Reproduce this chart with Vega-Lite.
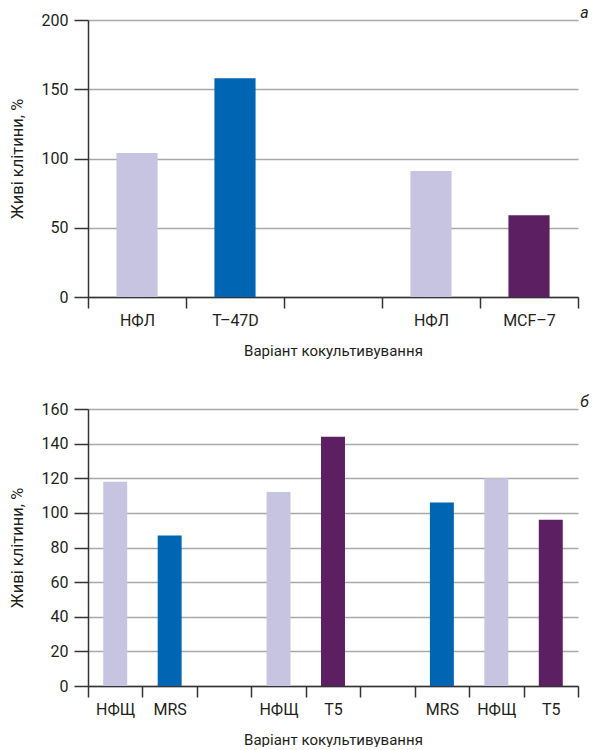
{
  "$schema": "https://vega.github.io/schema/vega-lite/v6.json",
  "padding": {"left": 9, "top": 5, "right": 5, "bottom": 0},
  "config": {
    "font": "Roboto",
    "view": {"stroke": null},
    "axis": {
      "labelFontSize": 16,
      "titleFontSize": 15,
      "labelColor": "#231f20",
      "titleColor": "#231f20",
      "titleFontWeight": "normal",
      "domainColor": "#333333",
      "domainWidth": 1.5,
      "tickColor": "#333333",
      "tickWidth": 1.5,
      "gridColor": "#a8a8a8",
      "gridWidth": 1.5
    }
  },
  "spacing": 36,
  "vconcat": [
    {
      "width": 490,
      "height": 277,
      "title": {"text": "а", "anchor": "end", "fontStyle": "italic", "fontWeight": "normal", "fontSize": 16, "dx": 10, "offset": -9, "color": "#231f20"},
      "data": {"values": [
        {"id": "1", "value": 104, "type": "norm"},
        {"id": "2", "value": 158, "type": "blue"},
        {"id": "4", "value": 91, "type": "norm"},
        {"id": "5", "value": 59, "type": "purple"}
      ]},
      "mark": {"type": "bar", "width": {"band": 0.42}},
      "encoding": {
        "x": {
          "field": "id", "type": "nominal",
          "scale": {"domain": ["1", "2", "3", "4", "5"], "paddingInner": 0, "paddingOuter": 0},
          "axis": {
            "title": "Варіант кокультивування",
            "labelAngle": 0,
            "labelExpr": "datum.value == '1' ? 'НФЛ' : datum.value == '2' ? 'Т–47D' : datum.value == '4' ? 'НФЛ' : datum.value == '5' ? 'MCF–7' : ''",
            "tickBand": "extent",
            "tickSize": 11,
            "labelPadding": 4,
            "titlePadding": 15
          }
        },
        "y": {
          "field": "value", "type": "quantitative",
          "scale": {"domain": [0, 200]},
          "axis": {"values": [0, 50, 100, 150, 200], "title": "Живі клітини, %", "titleFontSize": 16.5, "tickSize": 14, "labelPadding": 6, "titlePadding": 16}
        },
        "color": {
          "field": "type", "type": "nominal",
          "scale": {"domain": ["norm", "blue", "purple"], "range": ["#c6c4e1", "#0065b3", "#5c1f62"]},
          "legend": null
        }
      }
    },
    {
      "width": 490,
      "height": 277,
      "title": {"text": "б", "anchor": "end", "fontStyle": "italic", "fontWeight": "normal", "fontSize": 16, "dx": 10, "offset": -9, "color": "#231f20"},
      "data": {"values": [
        {"id": "1", "value": 118, "type": "norm"},
        {"id": "2", "value": 87, "type": "blue"},
        {"id": "4", "value": 112, "type": "norm"},
        {"id": "5", "value": 144, "type": "purple"},
        {"id": "7", "value": 106, "type": "blue"},
        {"id": "8", "value": 120, "type": "norm"},
        {"id": "9", "value": 96, "type": "purple"}
      ]},
      "mark": {"type": "bar", "width": {"band": 0.44}},
      "encoding": {
        "x": {
          "field": "id", "type": "nominal",
          "scale": {"domain": ["1", "2", "3", "4", "5", "6", "7", "8", "9"], "paddingInner": 0, "paddingOuter": 0},
          "axis": {
            "title": "Варіант кокультивування",
            "labelAngle": 0,
            "labelExpr": "datum.value == '1' ? 'НФЩ' : datum.value == '2' ? 'MRS' : datum.value == '4' ? 'НФЩ' : datum.value == '5' ? 'T5' : datum.value == '7' ? 'MRS' : datum.value == '8' ? 'НФЩ' : datum.value == '9' ? 'T5' : ''",
            "tickBand": "extent",
            "tickSize": 11,
            "labelPadding": 4,
            "titlePadding": 15
          }
        },
        "y": {
          "field": "value", "type": "quantitative",
          "scale": {"domain": [0, 160]},
          "axis": {"values": [0, 20, 40, 60, 80, 100, 120, 140, 160], "title": "Живі клітини, %", "titleFontSize": 16.5, "tickSize": 14, "labelPadding": 6, "titlePadding": 16}
        },
        "color": {
          "field": "type", "type": "nominal",
          "scale": {"domain": ["norm", "blue", "purple"], "range": ["#c6c4e1", "#0065b3", "#5c1f62"]},
          "legend": null
        }
      }
    }
  ]
}
